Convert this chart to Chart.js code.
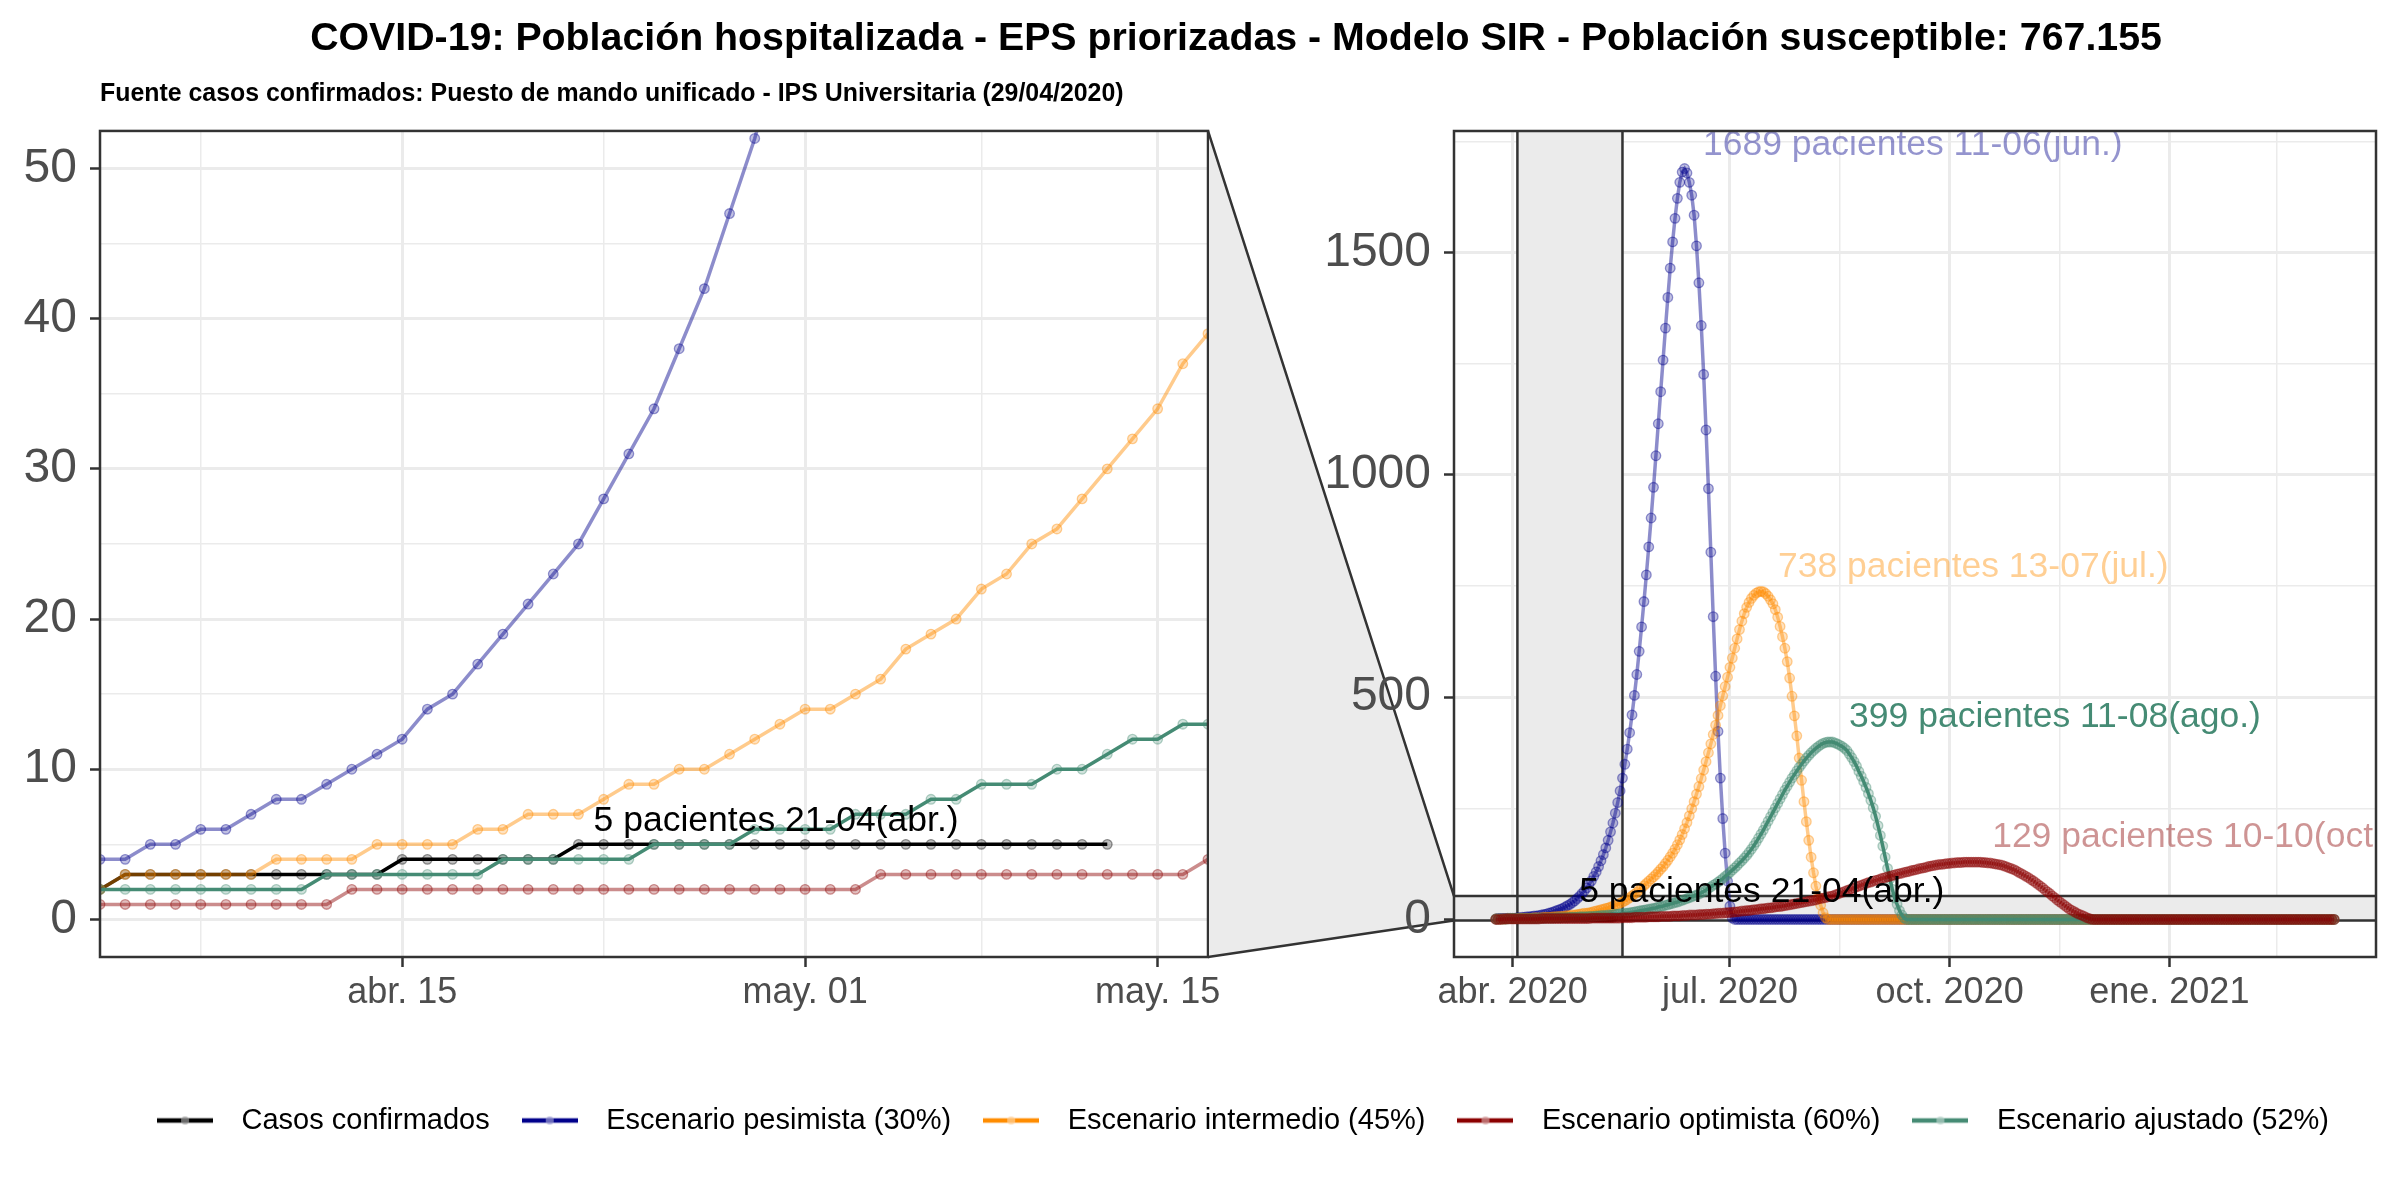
<!DOCTYPE html>
<html>
<head>
<meta charset="utf-8">
<title>COVID-19 - Modelo SIR</title>
<script src="https://cdn.jsdelivr.net/npm/chart.js@4.4.1/dist/chart.umd.min.js"></script>
<style>
    html, body { margin: 0; padding: 0; background: #ffffff; }
    #wrap { position: relative; width: 2400px; height: 1200px; }
    #wrap canvas { position: absolute; left: 0; top: 0; }
</style>
</head>
<body>
<div id="wrap">
    <canvas id="zoomCanvas" width="2400" height="1200"></canvas>
    <canvas id="fullCanvas" width="2400" height="1200"></canvas>
</div>
<script>
/* globals Chart:false */

// un valor por dia, el indice 0 es el 25/03/2020 (ultimo: 11/03/2021)
const titleText = 'COVID-19: Población hospitalizada - EPS priorizadas - Modelo SIR - Población susceptible: 767.155'
const sourceText = 'Fuente casos confirmados: Puesto de mando unificado - IPS Universitaria (29/04/2020)'

const seriesNames = [
    'Casos confirmados',
    'Escenario pesimista (30%)',
    'Escenario intermedio (45%)',
    'Escenario optimista (60%)',
    'Escenario ajustado (52%)'
]

const confirmados = [
    1, 1, 1, 1, 1, 2, 2, 2, 2, 2,
    3, 3, 3, 3, 3, 3, 3, 3, 3, 3,
    3, 4, 4, 4, 4, 4, 4, 4, 5, 5,
    5, 5, 5, 5, 5, 5, 5, 5, 5, 5,
    5, 5, 5, 5, 5, 5, 5, 5, 5, 5
]

const pesimista = [
    1, 2, 2, 2, 2, 3, 3, 3, 3, 4,
    4, 5, 5, 6, 6, 7, 8, 8, 9, 10,
    11, 12, 14, 15, 17, 19, 21, 23, 25, 28,
    31, 34, 38, 42, 47, 52, 58, 64, 71, 79,
    87, 97, 107, 119, 132, 146, 161, 178, 197, 217,
    239, 263, 289, 318, 349, 383, 420, 460, 504, 551,
    603, 658, 715, 775, 838, 903, 972, 1043, 1115, 1187,
    1258, 1330, 1399, 1465, 1524, 1577, 1622, 1658, 1681, 1689,
    1679, 1658, 1629, 1584, 1515, 1432, 1336, 1226, 1101, 969,
    826, 681, 547, 423, 318, 227, 149, 86, 30, 3,
    0, 0, 0, 0, 0, 0, 0, 0, 0, 0,
    0, 0, 0, 0, 0, 0, 0, 0, 0, 0,
    0, 0, 0, 0, 0, 0, 0, 0, 0, 0,
    0, 0, 0, 0, 0, 0, 0, 0, 0, 0,
    0, 0, 0, 0, 0, 0, 0, 0, 0, 0,
    0, 0, 0, 0, 0, 0, 0, 0, 0, 0,
    0, 0, 0, 0, 0, 0, 0, 0, 0, 0,
    0, 0, 0, 0, 0, 0, 0, 0, 0, 0,
    0, 0, 0, 0, 0, 0, 0, 0, 0, 0,
    0, 0, 0, 0, 0, 0, 0, 0, 0, 0,
    0, 0, 0, 0, 0, 0, 0, 0, 0, 0,
    0, 0, 0, 0, 0, 0, 0, 0, 0, 0,
    0, 0, 0, 0, 0, 0, 0, 0, 0, 0,
    0, 0, 0, 0, 0, 0, 0, 0, 0, 0,
    0, 0, 0, 0, 0, 0, 0, 0, 0, 0,
    0, 0, 0, 0, 0, 0, 0, 0, 0, 0,
    0, 0, 0, 0, 0, 0, 0, 0, 0, 0,
    0, 0, 0, 0, 0, 0, 0, 0, 0, 0,
    0, 0, 0, 0, 0, 0, 0, 0, 0, 0,
    0, 0, 0, 0, 0, 0, 0, 0, 0, 0,
    0, 0, 0, 0, 0, 0, 0, 0, 0, 0,
    0, 0, 0, 0, 0, 0, 0, 0, 0, 0,
    0, 0, 0, 0, 0, 0, 0, 0, 0, 0,
    0, 0, 0, 0, 0, 0, 0, 0, 0, 0,
    0, 0, 0, 0, 0, 0, 0, 0, 0, 0,
    0, 0
]

const intermedio = [
    1, 1, 1, 1, 1, 2, 2, 2, 2, 2,
    3, 3, 3, 3, 3, 3, 4, 4, 4, 4,
    5, 5, 5, 5, 6, 6, 7, 7, 7, 8,
    9, 9, 10, 10, 11, 12, 13, 14, 14, 15,
    16, 18, 19, 20, 22, 23, 25, 26, 28, 30,
    32, 34, 37, 39, 42, 45, 49, 53, 57, 61,
    66, 71, 76, 81, 86, 91, 96, 101, 107, 113,
    119, 126, 133, 141, 149, 158, 168, 179, 191, 204,
    218, 233, 249, 265, 282, 299, 317, 336, 355, 375,
    395, 416, 437, 459, 481, 503, 524, 545, 567, 588,
    610, 631, 652, 671, 688, 702, 713, 722, 729, 734,
    737, 738, 737, 733, 727, 719, 710, 697, 680, 659,
    636, 610, 580, 543, 502, 458, 413, 363, 313, 265,
    220, 178, 140, 105, 75, 50, 32, 15, 4, 0,
    0, 0, 0, 0, 0, 0, 0, 0, 0, 0,
    0, 0, 0, 0, 0, 0, 0, 0, 0, 0,
    0, 0, 0, 0, 0, 0, 0, 0, 0, 0,
    0, 0, 0, 0, 0, 0, 0, 0, 0, 0,
    0, 0, 0, 0, 0, 0, 0, 0, 0, 0,
    0, 0, 0, 0, 0, 0, 0, 0, 0, 0,
    0, 0, 0, 0, 0, 0, 0, 0, 0, 0,
    0, 0, 0, 0, 0, 0, 0, 0, 0, 0,
    0, 0, 0, 0, 0, 0, 0, 0, 0, 0,
    0, 0, 0, 0, 0, 0, 0, 0, 0, 0,
    0, 0, 0, 0, 0, 0, 0, 0, 0, 0,
    0, 0, 0, 0, 0, 0, 0, 0, 0, 0,
    0, 0, 0, 0, 0, 0, 0, 0, 0, 0,
    0, 0, 0, 0, 0, 0, 0, 0, 0, 0,
    0, 0, 0, 0, 0, 0, 0, 0, 0, 0,
    0, 0, 0, 0, 0, 0, 0, 0, 0, 0,
    0, 0, 0, 0, 0, 0, 0, 0, 0, 0,
    0, 0, 0, 0, 0, 0, 0, 0, 0, 0,
    0, 0, 0, 0, 0, 0, 0, 0, 0, 0,
    0, 0, 0, 0, 0, 0, 0, 0, 0, 0,
    0, 0, 0, 0, 0, 0, 0, 0, 0, 0,
    0, 0
]

const optimista = [
    0, 0, 0, 1, 1, 1, 1, 1, 1, 1,
    1, 1, 1, 1, 1, 1, 1, 1, 1, 2,
    2, 2, 2, 2, 2, 2, 2, 2, 2, 2,
    2, 2, 2, 2, 2, 2, 2, 2, 2, 2,
    3, 3, 3, 3, 3, 3, 3, 3, 3, 3,
    3, 3, 3, 4, 4, 4, 4, 4, 5, 5,
    5, 5, 5, 5, 6, 6, 6, 6, 6, 7,
    7, 7, 7, 7, 8, 8, 8, 8, 9, 9,
    9, 10, 10, 10, 10, 11, 11, 11, 12, 12,
    12, 13, 13, 14, 14, 14, 15, 15, 16, 16,
    17, 17, 18, 19, 19, 20, 20, 21, 22, 22,
    23, 24, 24, 25, 26, 26, 27, 28, 29, 29,
    30, 31, 32, 33, 34, 35, 36, 37, 38, 39,
    40, 41, 42, 43, 44, 46, 47, 48, 49, 51,
    52, 53, 55, 57, 59, 61, 63, 65, 67, 69,
    71, 73, 75, 77, 79, 81, 83, 84, 86, 88,
    89, 91, 93, 94, 96, 97, 99, 100, 102, 103,
    104, 106, 107, 108, 110, 111, 112, 114, 115, 116,
    117, 119, 120, 121, 122, 123, 124, 124, 125, 126,
    126, 127, 127, 128, 128, 128, 129, 129, 129, 129,
    129, 129, 129, 129, 128, 128, 127, 127, 126, 125,
    124, 123, 122, 120, 118, 116, 114, 112, 109, 106,
    103, 100, 97, 94, 90, 87, 83, 79, 75, 71,
    66, 62, 58, 53, 49, 44, 40, 36, 32, 28,
    24, 21, 18, 15, 12, 10, 8, 5, 3, 1,
    0, 0, 0, 0, 0, 0, 0, 0, 0, 0,
    0, 0, 0, 0, 0, 0, 0, 0, 0, 0,
    0, 0, 0, 0, 0, 0, 0, 0, 0, 0,
    0, 0, 0, 0, 0, 0, 0, 0, 0, 0,
    0, 0, 0, 0, 0, 0, 0, 0, 0, 0,
    0, 0, 0, 0, 0, 0, 0, 0, 0, 0,
    0, 0, 0, 0, 0, 0, 0, 0, 0, 0,
    0, 0, 0, 0, 0, 0, 0, 0, 0, 0,
    0, 0, 0, 0, 0, 0, 0, 0, 0, 0,
    0, 0, 0, 0, 0, 0, 0, 0, 0, 0,
    0, 0
]

const ajustado = [
    1, 1, 1, 1, 1, 1, 2, 2, 2, 2,
    2, 2, 2, 2, 2, 2, 2, 2, 3, 3,
    3, 3, 3, 3, 3, 4, 4, 4, 4, 4,
    4, 5, 5, 5, 5, 6, 6, 6, 6, 7,
    7, 7, 8, 8, 9, 9, 9, 10, 10, 11,
    12, 12, 13, 13, 14, 14, 15, 16, 17, 18,
    19, 20, 21, 22, 23, 24, 25, 26, 28, 29,
    30, 32, 33, 35, 36, 38, 39, 41, 43, 45,
    47, 49, 51, 53, 55, 57, 60, 63, 66, 70,
    73, 77, 80, 84, 88, 92, 97, 101, 106, 111,
    116, 121, 127, 132, 138, 144, 151, 158, 166, 174,
    183, 192, 201, 211, 221, 231, 241, 251, 261, 271,
    281, 291, 300, 309, 318, 326, 334, 342, 349, 356,
    363, 369, 375, 380, 385, 389, 393, 396, 398, 399,
    399, 399, 397, 395, 392, 389, 385, 380, 372, 364,
    355, 345, 333, 322, 310, 297, 283, 268, 251, 232,
    211, 189, 165, 140, 115, 91, 68, 48, 34, 20,
    10, 3, 0, 0, 0, 0, 0, 0, 0, 0,
    0, 0, 0, 0, 0, 0, 0, 0, 0, 0,
    0, 0, 0, 0, 0, 0, 0, 0, 0, 0,
    0, 0, 0, 0, 0, 0, 0, 0, 0, 0,
    0, 0, 0, 0, 0, 0, 0, 0, 0, 0,
    0, 0, 0, 0, 0, 0, 0, 0, 0, 0,
    0, 0, 0, 0, 0, 0, 0, 0, 0, 0,
    0, 0, 0, 0, 0, 0, 0, 0, 0, 0,
    0, 0, 0, 0, 0, 0, 0, 0, 0, 0,
    0, 0, 0, 0, 0, 0, 0, 0, 0, 0,
    0, 0, 0, 0, 0, 0, 0, 0, 0, 0,
    0, 0, 0, 0, 0, 0, 0, 0, 0, 0,
    0, 0, 0, 0, 0, 0, 0, 0, 0, 0,
    0, 0, 0, 0, 0, 0, 0, 0, 0, 0,
    0, 0, 0, 0, 0, 0, 0, 0, 0, 0,
    0, 0, 0, 0, 0, 0, 0, 0, 0, 0,
    0, 0, 0, 0, 0, 0, 0, 0, 0, 0,
    0, 0, 0, 0, 0, 0, 0, 0, 0, 0,
    0, 0
]

const seriesValues = [confirmados, pesimista, intermedio, optimista, ajustado]

// etiquetas de los ejes (dias desde el 25/03/2020)
const zoomXTickDays = [21, 37, 51]
const zoomXTickLabels = ['abr. 15', 'may. 01', 'may. 15']
const zoomXMinorDays = [13, 29, 44]
const fullXTickDays = [7, 98, 190, 282]
const fullXTickLabels = ['abr. 2020', 'jul. 2020', 'oct. 2020', 'ene. 2021']
const fullXMinorDays = [52.5, 144, 236, 327]
const zoomYTicks = [0, 10, 20, 30, 40, 50]
const zoomYTickLabels = ['0', '10', '20', '30', '40', '50']
const zoomYMinor = [5, 15, 25, 35, 45]
const fullYTicks = [0, 500, 1000, 1500]
const fullYTickLabels = ['0', '500', '1000', '1500']
const fullYMinor = [250, 750, 1250, 1750]

const peakLabels = [
    '5 pacientes 21-04(abr.)',
    '1689 pacientes 11-06(jun.)',
    '738 pacientes 13-07(jul.)',
    '129 pacientes 10-10(oct.)',
    '399 pacientes 11-08(ago.)'
];

// ------------------------------------------------------------------
(() => {
    'use strict'

    Chart.defaults.font.family = '"Liberation Sans", Arial, Helvetica, sans-serif'
    Chart.defaults.color = '#4D4D4D'

    const W = 2400
    const H = 1200
    // cajas de los paneles, en pixeles
    const panelTop = 131
    const panelBottom = 957
    const zoomLeft = 100
    const zoomRight = 1208
    const fullLeft = 1454
    const fullRight = 2376
    const headRight = 28 // centra titulo y leyenda sobre los dos paneles

    // zona ampliada (panel izquierdo)
    const zoomView = { xMin: 9, xMax: 53, yMin: -2.5, yMax: 52.5 }

    const rgb = ['0,0,0', '0,0,139', '255,140,0', '139,0,0', '69,139,116']
    const lineAlpha = [1, 0.45, 0.45, 0.45, 1]
    const drawOrder = [5, 4, 3, 1, 2]

    const nDays = pesimista.length
    const maxValue = Math.max(...pesimista)

    function makeDatasets () {
        return seriesValues.map((values, i) => ({
            label: seriesNames[i],
            data: values.map((v, d) => ({ x: d, y: v })),
            yAxisID: 'y',
            order: drawOrder[i],
            borderColor: 'rgba(' + rgb[i] + ',' + lineAlpha[i] + ')',
            borderWidth: 3.5,
            tension: 0,
            fill: false,
            pointRadius: 4.8,
            pointBackgroundColor: 'rgba(' + rgb[i] + ',0.25)',
            pointBorderColor: 'rgba(' + rgb[i] + ',0.4)',
            pointBorderWidth: 1.3
        }))
    }

    function legendKey (i) {
        const c = document.createElement('canvas')
        c.width = 56
        c.height = 20
        const g = c.getContext('2d')
        g.strokeStyle = 'rgb(' + rgb[i] + ')'
        g.lineWidth = 4.5
        g.beginPath()
        g.moveTo(0, 10)
        g.lineTo(56, 10)
        g.stroke()
        g.beginPath()
        g.arc(28, 10, 4, 0, 2 * Math.PI)
        g.fillStyle = 'rgba(255,255,255,0.6)'
        g.fill()
        g.fillStyle = 'rgba(' + rgb[i] + ',0.3)'
        g.fill()
        return c
    }

    function axis (o) {
        const isMajor = c => !!c.tick && o.major.includes(c.tick.value)
        return {
            type: 'linear',
            min: o.min,
            max: o.max,
            afterBuildTicks: s => {
                s.ticks = o.major.concat(o.minor).sort((a, b) => a - b).map(v => ({ value: v }))
            },
            afterFit: o.fit,
            ticks: Object.assign({
                autoSkip: false,
                maxRotation: 0,
                padding: o.padding,
                color: '#4D4D4D',
                font: { size: o.size },
                callback: v => {
                    const k = o.major.indexOf(v)
                    return k < 0 ? '' : o.labels[k]
                }
            }, o.ticks || {}),
            grid: {
                color: '#EBEBEB',
                lineWidth: c => isMajor(c) ? 3 : 1.5,
                tickLength: 10,
                tickWidth: 2.5,
                tickColor: c => isMajor(c) ? '#333333' : 'rgba(0,0,0,0)'
            },
            border: { display: false }
        }
    }

    const panelBorder = {
        id: 'panelBorder',
        afterDraw (chart) {
            const { ctx, chartArea: a } = chart
            ctx.save()
            ctx.strokeStyle = '#333333'
            ctx.lineWidth = 2.5
            ctx.strokeRect(a.left, a.top, a.right - a.left, a.bottom - a.top)
            ctx.restore()
        }
    }

    function textLabels (items) {
        return {
            id: 'textLabels',
            afterDatasetsDraw (chart) {
                const { ctx, chartArea: a, scales: { x, y } } = chart
                ctx.save()
                ctx.beginPath()
                ctx.rect(a.left, a.top, a.right - a.left, a.bottom - a.top)
                ctx.clip()
                ctx.font = '35.5px "Liberation Sans", Arial, sans-serif'
                ctx.textAlign = 'left'
                ctx.textBaseline = 'middle'
                items.forEach(it => {
                    ctx.fillStyle = it.color
                    ctx.fillText(it.text, x.getPixelForValue(it.x), y.getPixelForValue(it.y))
                })
                ctx.restore()
            }
        }
    }

    // Panel izquierdo: zoom
    const zoomChart = new Chart(document.getElementById('zoomCanvas'), {
        type: 'line',
        data: { datasets: makeDatasets() },
        options: {
            responsive: false,
            animation: false,
            events: [],
            layout: { padding: { left: zoomLeft, right: headRight, top: 0, bottom: 55 } },
            scales: {
                x: axis({
                    min: zoomView.xMin,
                    max: zoomView.xMax,
                    major: zoomXTickDays,
                    minor: zoomXMinorDays,
                    labels: zoomXTickLabels,
                    size: 36,
                    padding: 4,
                    fit: s => {
                        const lh = s.chart.legend ? s.chart.legend.height : 57
                        s.height = H - panelBottom - lh - 55
                    }
                }),
                // el eje no tiene ancho: las etiquetas se dibujan en el margen
                y: axis({
                    min: zoomView.yMin,
                    max: zoomView.yMax,
                    major: zoomYTicks,
                    minor: zoomYMinor,
                    labels: zoomYTickLabels,
                    size: 48,
                    padding: -(10 + 13 + 53.4),
                    ticks: { mirror: true, crossAlign: 'far' },
                    fit: s => { s.width = 0 }
                }),
                spacer: {
                    type: 'linear',
                    axis: 'y',
                    position: 'right',
                    ticks: { display: false },
                    grid: { display: false, drawTicks: false },
                    border: { display: false },
                    afterFit: s => { s.width = W - zoomRight - headRight }
                }
            },
            plugins: {
                tooltip: { enabled: false },
                title: {
                    display: true,
                    text: titleText,
                    color: '#000000',
                    font: { size: 39.3, weight: 'bold', lineHeight: 1.2 },
                    padding: { top: 15.4, bottom: 0 }
                },
                subtitle: {
                    display: true,
                    text: sourceText,
                    align: 'start',
                    color: '#000000',
                    font: { size: 24.9, weight: 'bold', lineHeight: 1.2 },
                    padding: { top: 16.5, bottom: 22.0 }
                },
                legend: {
                    position: 'bottom',
                    labels: {
                        color: '#000000',
                        font: { size: 29 },
                        usePointStyle: true,
                        pointStyleWidth: 84,
                        padding: 18,
                        generateLabels: chart => chart.data.datasets.map((ds, i) => ({
                            text: ds.label,
                            datasetIndex: i,
                            pointStyle: legendKey(i),
                            fillStyle: 'rgba(0,0,0,0)',
                            strokeStyle: 'rgba(0,0,0,0)',
                            lineWidth: 0,
                            hidden: false
                        }))
                    }
                }
            }
        },
        plugins: [
            panelBorder,
            textLabels([
                { text: peakLabels[0], color: '#000000', x: 28.6, y: 6.55 }
            ])
        ]
    })

    // trapecio que une el zoom con la vista completa
    const zoomLink = {
        id: 'zoomLink',
        beforeDraw (chart) {
            const { ctx, chartArea: a, scales: { y } } = chart
            const z = zoomChart.chartArea
            const yTop = y.getPixelForValue(zoomView.yMax)
            const yBot = y.getPixelForValue(zoomView.yMin)
            ctx.save()
            ctx.beginPath()
            ctx.moveTo(z.right + 1, z.top)
            ctx.lineTo(a.left, yTop)
            ctx.lineTo(a.left, yBot)
            ctx.lineTo(z.right + 1, z.bottom)
            ctx.closePath()
            ctx.fillStyle = '#EBEBEB'
            ctx.fill()
            ctx.beginPath()
            ctx.moveTo(z.right, z.top)
            ctx.lineTo(a.left, yTop)
            ctx.moveTo(z.right, z.bottom)
            ctx.lineTo(a.left, yBot)
            ctx.strokeStyle = '#333333'
            ctx.lineWidth = 2.5
            ctx.stroke()
            ctx.restore()
        }
    }

    const zoomBands = {
        id: 'zoomBands',
        beforeDatasetsDraw (chart) {
            const { ctx, chartArea: a, scales: { x, y } } = chart
            const x0 = x.getPixelForValue(zoomView.xMin)
            const x1 = x.getPixelForValue(zoomView.xMax)
            const y0 = y.getPixelForValue(zoomView.yMax)
            const y1 = y.getPixelForValue(zoomView.yMin)
            ctx.save()
            ctx.fillStyle = '#EBEBEB'
            ctx.fillRect(x0, a.top, x1 - x0, a.bottom - a.top)
            ctx.fillRect(a.left, y0, a.right - a.left, y1 - y0)
            ctx.strokeStyle = '#333333'
            ctx.lineWidth = 2.5
            ctx.beginPath()
            ctx.moveTo(x0, a.top)
            ctx.lineTo(x0, a.bottom)
            ctx.moveTo(x1, a.top)
            ctx.lineTo(x1, a.bottom)
            ctx.moveTo(a.left, y0)
            ctx.lineTo(a.right, y0)
            ctx.moveTo(a.left, y1)
            ctx.lineTo(a.right, y1)
            ctx.stroke()
            ctx.restore()
        }
    }

    // Panel derecho: serie completa
    // eslint-disable-next-line no-unused-vars
    const fullChart = new Chart(document.getElementById('fullCanvas'), {
        type: 'line',
        data: { datasets: makeDatasets() },
        options: {
            responsive: false,
            animation: false,
            events: [],
            layout: { padding: { left: zoomRight, right: W - fullRight, top: panelTop, bottom: 0 } },
            scales: {
                x: axis({
                    min: -0.05 * (nDays - 1),
                    max: 1.05 * (nDays - 1),
                    major: fullXTickDays,
                    minor: fullXMinorDays,
                    labels: fullXTickLabels,
                    size: 36,
                    padding: 4,
                    fit: s => { s.height = H - panelBottom }
                }),
                y: axis({
                    min: -0.05 * maxValue,
                    max: 1.05 * maxValue,
                    major: fullYTicks,
                    minor: fullYMinor,
                    labels: fullYTickLabels,
                    size: 48,
                    padding: 13,
                    fit: s => { s.width = fullLeft - zoomRight }
                })
            },
            plugins: {
                tooltip: { enabled: false },
                legend: { display: false }
            }
        },
        plugins: [
            zoomLink,
            zoomBands,
            panelBorder,
            textLabels([
                { text: peakLabels[0], color: '#000000', x: 34.9, y: 61 },
                { text: peakLabels[1], color: 'rgba(0,0,139,0.42)', x: 86.7, y: 1742 },
                { text: peakLabels[2], color: 'rgba(255,140,0,0.42)', x: 118.1, y: 792 },
                { text: peakLabels[4], color: 'rgb(69,139,116)', x: 147.9, y: 455 },
                { text: peakLabels[3], color: 'rgba(139,0,0,0.42)', x: 207.8, y: 186 }
            ])
        ]
    })
})()
</script>
</body>
</html>
